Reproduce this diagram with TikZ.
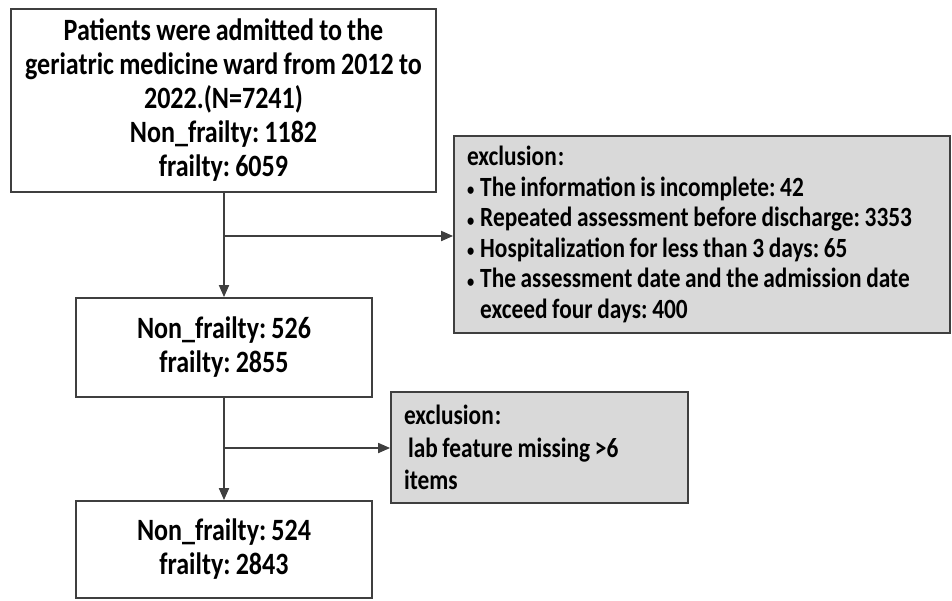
\documentclass[tikz,border=0pt]{standalone}
\usepackage{fontspec}
\usepackage{graphicx}
\setmainfont{Carlito}[FakeStretch=0.84, WordSpace={0.88,0,0}]
\usetikzlibrary{arrows.meta}
\definecolor{linec}{HTML}{3F3F3F}
\definecolor{exfill}{HTML}{D9D9D9}
\newcommand{\smbul}{\raisebox{0.5pt}{\scalebox{0.62}{\textbullet}}\kern6pt}
\begin{document}
\frenchspacing
\begin{tikzpicture}[x=1pt,y=-1pt,
  box/.style={draw=linec, line width=1.8pt, fill=white, inner sep=0pt, align=center,
    font=\bfseries\fontsize{31}{34}\selectfont},
  exbox/.style={draw=linec, line width=1.8pt, fill=exfill, inner xsep=13pt, inner ysep=0pt, align=flush left,
    font=\bfseries\fontsize{27.8}{30.6}\selectfont},
  conn/.style={draw=linec, line width=1.8pt},
  arr/.style={conn, -{Triangle[length=12pt,width=10pt]}}]
\useasboundingbox (0,0) rectangle (952,600);
\node[box, minimum width=425pt, minimum height=183pt] (b1) at (223.5,100.5)
  {Patients were admitted to the\\geriatric medicine ward from 2012 to\\2022.(N=7241)\\Non\_frailty: 1182\\frailty: 6059};
\node[box, minimum width=296pt, minimum height=99pt] (b2) at (224,347.5)
  {Non\_frailty: 526\\frailty: 2855};
\node[box, minimum width=296pt, minimum height=97pt] (b3) at (224,549.5)
  {Non\_frailty: 524\\frailty: 2843};
\node[exbox, text width=470pt, minimum height=197pt] (e1) at (702,234.5)
  {exclusion\kern1pt:\\\smbul The information is incomplete: 42\\\smbul Repeated assessment before discharge: 3353\\\smbul Hospitalization for less than 3 days: 65\\\smbul The assessment date and the admission date\\\hphantom{\smbul}exceed four days: 400};
\node[exbox, text width=271pt, minimum height=111pt, font=\bfseries\fontsize{27.8}{32.5}\selectfont] (e2) at (539.5,447.5)
  {exclusion\kern1pt:\\\hspace{4pt}lab feature missing >6\\items};
\coordinate (j1) at (224,236);
\coordinate (j2) at (224,448);
\draw[arr] (b2.north |- b1.south) -- (b2.north);
\draw[arr] (j1) -- (j1 -| e1.west);
\draw[arr] (b2.south) -- (b3.north);
\draw[arr] (j2) -- (j2 -| e2.west);
\end{tikzpicture}
\end{document}
